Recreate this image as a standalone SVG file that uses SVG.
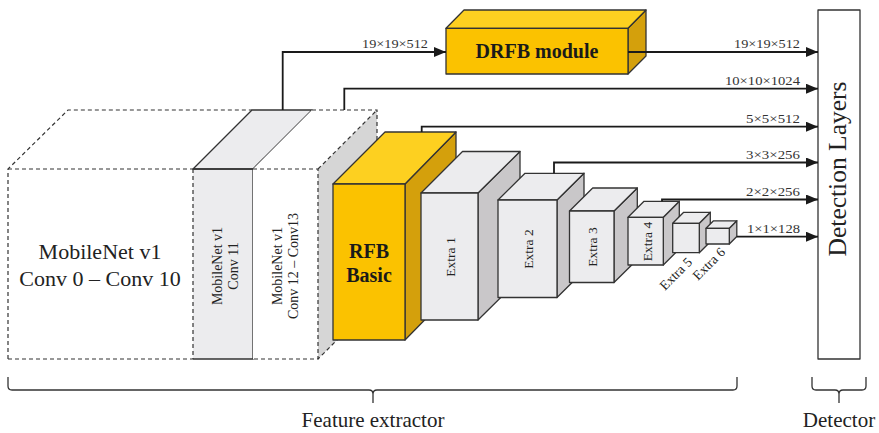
<svg xmlns="http://www.w3.org/2000/svg" width="879" height="433" viewBox="0 0 879 433">
  <style>
    text { font-family: 'Liberation Serif', 'Times New Roman', serif; fill: #222; }
    .edge { stroke: #333; stroke-width: 1.3; stroke-linejoin: round; }
    .dash { fill: none; stroke: #333; stroke-width: 1.2; stroke-dasharray: 4 3; }
    .solid { fill: none; stroke: #333; stroke-width: 1.3; }
    .front { fill: #ececee; }
    .top { fill: #ececee; }
    .side { fill: #c9c7c9; }
    .yfront { fill: #fbc200; }
    .ytop { fill: #fdd020; }
    .yside { fill: #d4a00c; }
    .wire { fill: none; stroke: #1a1a1a; stroke-width: 1.8; }
    .dim { font-size: 11.5px; fill: #333; }
    .rot { font-size: 14px; text-anchor: middle; }
    .ext { font-size: 13.5px; text-anchor: middle; }
    .bold { font-weight: bold; text-anchor: middle; font-size: 20px; fill: #1a1a1a; }
    .brace { fill: none; stroke: #333; stroke-width: 1.3; }
  </style>
  <defs>
    <marker id="arrow" markerWidth="12" markerHeight="10" refX="12" refY="5" orient="auto" markerUnits="userSpaceOnUse">
      <path d="M0,0 L12,5 L0,10 Z" fill="#1a1a1a"/>
    </marker>
  </defs>

  <!-- MobileNet v1, Conv 0 - Conv 10 (dashed block) -->
  <g id="mobilenet-conv0-10">
    <polygon points="8,169 68,110 252,110 193,169" fill="#fff"/>
    <rect x="8" y="169" width="185" height="190" fill="#fff"/>
    <polyline class="dash" points="8,359 8,169 68,110 252,110"/>
    <line class="dash" x1="8" y1="169" x2="193" y2="169"/>
    <line class="dash" x1="8" y1="359" x2="193" y2="359"/>
    <text x="100" y="259" font-size="22" text-anchor="middle">MobileNet v1</text>
    <text x="100" y="286" font-size="22" text-anchor="middle">Conv 0 – Conv 10</text>
  </g>

  <!-- MobileNet v1, Conv 11 -->
  <g id="mobilenet-conv11">
    <rect class="front" x="193" y="169" width="60" height="190"/>
    <polygon class="top edge" points="193,169 253,169 312,110 252,110"/>
    <polyline class="solid" points="193,169 253,169 253,359 193,359"/>
    <line class="dash" x1="193" y1="169" x2="193" y2="359"/>
    <text class="rot" transform="translate(221.5,266) rotate(-90)">MobileNet v1</text>
    <text class="rot" transform="translate(237.5,266) rotate(-90)">Conv 11</text>
  </g>

  <!-- MobileNet v1, Conv 12 - Conv 13 (dashed block) -->
  <g id="mobilenet-conv12-13">
    <polygon points="318,169 377,110 377,300 318,359" fill="#d6d6d6"/>
    <polygon points="253,169 318,169 377,110 312,110" fill="#fff"/>
    <rect x="253" y="169" width="65" height="190" fill="#fff"/>
    <polyline class="dash" points="253,169 318,169 318,359 253,359"/>
    <polyline class="dash" points="312,110 377,110 377,300 318,359"/>
    <line class="dash" x1="318" y1="169" x2="377" y2="110"/>
    <text class="rot" transform="translate(281.5,266) rotate(-90)">MobileNet v1</text>
    <text class="rot" transform="translate(298,266) rotate(-90)">Conv 12 – Conv13</text>
  </g>

  <!-- RFB Basic -->
  <g id="rfb-basic">
    <polygon class="yside edge" points="405,184 456,132 456,288 405,340"/>
    <polygon class="ytop edge" points="333,184 405,184 456,132 385,132"/>
    <rect class="yfront edge" x="333" y="184" width="72" height="156"/>
    <text class="bold" x="369" y="258">RFB</text>
    <text class="bold" x="369" y="282">Basic</text>
  </g>

  <!-- Extra layers -->
  <g id="extra1">
    <polygon class="side edge" points="478,193 520,151.5 520,278.5 478,320"/>
    <polygon class="top edge" points="421,193 478,193 520,151.5 462.5,151.5"/>
    <rect class="front edge" x="421" y="193" width="57" height="127"/>
    <text class="ext" transform="translate(454.5,257) rotate(-90)">Extra 1</text>
  </g>
  <g id="extra2">
    <polygon class="side edge" points="557,200 584,173.3 584,270.8 557,297.5"/>
    <polygon class="top edge" points="498,200 557,200 584,173.3 525,173.3"/>
    <rect class="front edge" x="498" y="200" width="59" height="97.5"/>
    <text class="ext" transform="translate(532.5,249) rotate(-90)">Extra 2</text>
  </g>
  <g id="extra3">
    <polygon class="side edge" points="614,211 637.3,188 637.3,259.5 614,282.5"/>
    <polygon class="top edge" points="569.5,211 614,211 637.3,188 592.7,188"/>
    <rect class="front edge" x="569.5" y="211" width="44.5" height="71.5"/>
    <text class="ext" transform="translate(596.5,247) rotate(-90)">Extra 3</text>
  </g>
  <g id="extra4">
    <polygon class="side edge" points="663.3,217.3 679.3,201.3 679.3,249 663.3,265"/>
    <polygon class="top edge" points="628,217.3 663.3,217.3 679.3,201.3 644,201.3"/>
    <rect class="front edge" x="628" y="217.3" width="35.3" height="47.7"/>
    <text class="ext" transform="translate(651.5,241.5) rotate(-90)">Extra 4</text>
  </g>
  <g id="extra5">
    <polygon class="side edge" points="699.3,223.3 710.3,212.3 710.3,241.7 699.3,252.7"/>
    <polygon class="top edge" points="672.7,223.3 699.3,223.3 710.3,212.3 683.7,212.3"/>
    <rect class="front edge" x="672.7" y="223.3" width="26.6" height="29.4"/>
    <text class="ext" transform="translate(679,277) rotate(-45)">Extra 5</text>
  </g>
  <g id="extra6">
    <polygon class="side edge" points="729.3,228.3 736.8,220.8 736.8,236.5 729.3,244"/>
    <polygon class="top edge" points="706,228.3 729.3,228.3 736.8,220.8 713.5,220.8"/>
    <rect class="front edge" x="706" y="228.3" width="23.3" height="15.7"/>
    <text class="ext" transform="translate(712,267) rotate(-45)">Extra 6</text>
  </g>

  <!-- DRFB module -->
  <g id="drfb-module">
    <polygon class="yside edge" points="628,28.3 646,10 646,56 628,74"/>
    <polygon class="ytop edge" points="446,28.3 628,28.3 646,10 464,10"/>
    <rect class="yfront edge" x="446" y="28.3" width="182" height="45.7"/>
    <text class="bold" x="537" y="58">DRFB module</text>
  </g>

  <!-- Detection layers -->
  <g id="detection-layers">
    <rect x="818" y="10" width="42" height="349" fill="#fff" class="edge"/>
    <text transform="translate(846,169) rotate(-90)" font-size="25.5" text-anchor="middle">Detection Layers</text>
  </g>

  <!-- Feature map connectors -->
  <g id="connectors">
    <polyline class="wire" points="282.7,110 282.7,52 446,52" marker-end="url(#arrow)"/>
    <polyline class="wire" points="628,52 818,52" marker-end="url(#arrow)"/>
    <polyline class="wire" points="344.3,110 344.3,88.7 818,88.7" marker-end="url(#arrow)"/>
    <polyline class="wire" points="421.7,132 421.7,126.7 818,126.7" marker-end="url(#arrow)"/>
    <polyline class="wire" points="554,173.3 554,162.5 818,162.5" marker-end="url(#arrow)"/>
    <polyline class="wire" points="662,201.3 662,199.5 818,199.5" marker-end="url(#arrow)"/>
    <polyline class="wire" points="736.8,236.7 818,236.7" marker-end="url(#arrow)"/>

    <text class="dim" x="362" y="48" textLength="66" lengthAdjust="spacingAndGlyphs">19×19×512</text>
    <text class="dim" x="800" y="48" text-anchor="end" textLength="66" lengthAdjust="spacingAndGlyphs">19×19×512</text>
    <text class="dim" x="800" y="84.5" text-anchor="end" textLength="75" lengthAdjust="spacingAndGlyphs">10×10×1024</text>
    <text class="dim" x="800" y="122.5" text-anchor="end" textLength="54" lengthAdjust="spacingAndGlyphs">5×5×512</text>
    <text class="dim" x="800" y="158.5" text-anchor="end" textLength="54" lengthAdjust="spacingAndGlyphs">3×3×256</text>
    <text class="dim" x="800" y="195.5" text-anchor="end" textLength="54" lengthAdjust="spacingAndGlyphs">2×2×256</text>
    <text class="dim" x="800" y="232.5" text-anchor="end" textLength="53" lengthAdjust="spacingAndGlyphs">1×1×128</text>
  </g>

  <!-- Section braces -->
  <g id="feature-extractor">
    <path class="brace" d="M8,377 L8,386 Q8,390 12,390 L369,390 Q373,390 373,394 L373,403 M373,394 Q373,390 377,390 L733,390 Q737,390 737,386 L737,377"/>
    <text x="373" y="427" font-size="21" text-anchor="middle">Feature extractor</text>
  </g>
  <g id="detector">
    <path class="brace" d="M812,377 L812,386 Q812,390 816,390 L835,390 Q839,390 839,394 L839,403 M839,394 Q839,390 843,390 L862,390 Q866,390 866,386 L866,377"/>
    <text x="839" y="427" font-size="21" text-anchor="middle">Detector</text>
  </g>
</svg>
